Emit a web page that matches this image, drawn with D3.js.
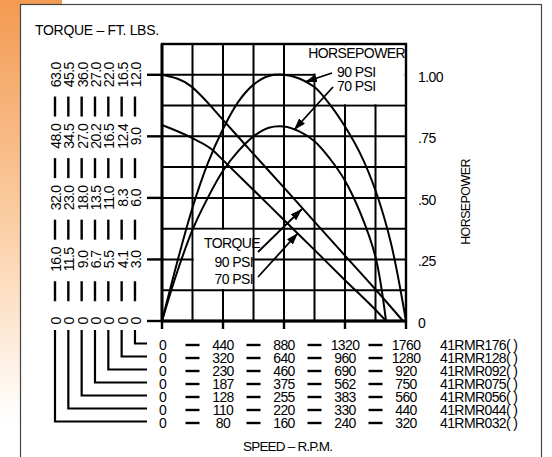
<!DOCTYPE html>
<html>
<head>
<meta charset="utf-8">
<script src="https://cdn.jsdelivr.net/npm/d3@7"></script>
<style>
  html, body { margin: 0; padding: 0; background: #fff; }
  svg { display: block; font-family: "Liberation Sans", Arial, sans-serif; }
  svg text { fill: #000; }
</style>
</head>
<body>
<svg id="chart" width="552" height="457"></svg>
<script>
// Torque curves (ft-lb on the 41RMR176 scale) against speed (rpm)
const rpm90 = [0, 216, 281, 440, 656, 880, 1096, 1320, 1536, 1738];
const torque90 = [12.0, 11.41, 10.99, 9.80, 8.17, 6.50, 4.87, 3.19, 1.57, 0.0];
const rpm70 = [0, 216, 360, 440, 656, 880, 1096, 1320, 1536, 1616];
const torque70 = [9.55, 8.92, 8.36, 7.84, 6.41, 4.92, 3.49, 1.99, 0.57, 0.0];
// Horsepower curves
const hpRpm90 = [0, 110, 220, 330, 440, 550, 660, 770, 880, 990, 1100, 1210, 1320, 1430, 1540, 1650, 1760];
const hp90 = [0.0, 0.24, 0.46, 0.64, 0.78, 0.89, 0.96, 0.995, 1.0, 0.985, 0.95, 0.88, 0.79, 0.68, 0.53, 0.32, 0.0];
const hpRpm70 = [0, 110, 220, 330, 440, 550, 660, 770, 880, 990, 1100, 1210, 1320, 1430, 1540, 1616];
const hp70 = [0.0, 0.20, 0.37, 0.50, 0.61, 0.69, 0.75, 0.785, 0.79, 0.77, 0.73, 0.66, 0.57, 0.44, 0.26, 0.0];

// Left torque columns, one per model (41RMR032 ... 41RMR176), top label first
const torqueCols = [
  ["63.0", "48.0", "32.0", "16.0", "0"],
  ["45.5", "34.5", "23.0", "11.5", "0"],
  ["36.0", "27.0", "18.0", "9.0", "0"],
  ["27.0", "20.2", "13.5", "6.7", "0"],
  ["22.0", "16.5", "11.0", "5.5", "0"],
  ["16.5", "12.4", "8.3", "4.1", "0"],
  ["12.0", "9.0", "6.0", "3.0", "0"]
];
const torqueTicks = [12, 9, 6, 3, 0];
// Speed rows, 41RMR176 on top down to 41RMR032
const speedRows = [
  ["0", "440", "880", "1320", "1760"],
  ["0", "320", "640", "960", "1280"],
  ["0", "230", "460", "690", "920"],
  ["0", "187", "375", "562", "750"],
  ["0", "128", "255", "383", "560"],
  ["0", "110", "220", "330", "440"],
  ["0", "80", "160", "240", "320"]
];
const speedTicks = [0, 440, 880, 1320, 1760];
const rowModels = ["41RMR176( )", "41RMR128( )", "41RMR092( )", "41RMR075( )", "41RMR056( )", "41RMR044( )", "41RMR032( )"];
const hpTicks = [1.0, 0.75, 0.5, 0.25, 0];
const hpTickLabels = ["1.00", ".75", ".50", ".25", "0"];

const FS = 14, LS = -0.6;
const svg = d3.select("#chart");
const defs = svg.append("defs");

// Page background: orange fade strip behind a white card
const grad = defs.append("linearGradient").attr("id", "fade").attr("x1", 0).attr("y1", 0).attr("x2", 0).attr("y2", 1);
grad.append("stop").attr("offset", "0%").attr("stop-color", "#f39a52");
grad.append("stop").attr("offset", "50%").attr("stop-color", "#fbcfa6");
grad.append("stop").attr("offset", "92%").attr("stop-color", "#ffffff");
svg.append("rect").attr("x", 0).attr("y", 0).attr("width", 62).attr("height", 457).attr("fill", "url(#fade)");
svg.append("rect").attr("x", 20.5).attr("y", 4.5).attr("width", 521).attr("height", 470)
  .attr("fill", "#fff").attr("stroke", "#444").attr("stroke-width", 1.2);

// Plot scales: torque on the left, horsepower on the right share the grid
const x = d3.scaleLinear().domain([0, 1760]).range([162, 406]);
const y = d3.scaleLinear().domain([0, 13.5]).range([321, 44]);
const yHp = d3.scaleLinear().domain([0, 1.125]).range([321, 44]);

const g = svg.append("g");

// Grid: 8 columns x 9 rows
const colVals = d3.range(0, 1761, 220);
const rowVals = d3.range(0, 13.51, 1.5);
g.append("g").selectAll("line").data(colVals).join("line")
  .attr("x1", d => x(d)).attr("x2", d => x(d)).attr("y1", y(13.5)).attr("y2", y(0))
  .attr("stroke", "#000").attr("stroke-width", 2);
g.append("g").selectAll("line").data(rowVals).join("line")
  .attr("x1", x(0)).attr("x2", x(1760)).attr("y1", d => y(d)).attr("y2", d => y(d))
  .attr("stroke", "#000").attr("stroke-width", 2);

// Cleared cells behind the two notes
const m = 1.2;
const hpBox = [
  [x(880) + m, y(13.5) + m], [x(1760) - m, y(13.5) + m], [x(1760) - m, y(10.5) - m],
  [x(1100) + m, y(10.5) - m], [x(1100) + m, y(12) - m], [x(880) + m, y(12) - m]
];
g.append("polygon").attr("points", hpBox.map(p => p.join(",")).join(" ")).attr("fill", "#fff");
const tqBox = [
  [x(220) + m, y(4.5) + m], [x(660) - m, y(4.5) + m], [x(660) - m, y(1.5) - m], [x(220) + m, y(1.5) - m]
];
g.append("polygon").attr("points", tqBox.map(p => p.join(",")).join(" ")).attr("fill", "#fff");

// Plot frame
g.append("rect").attr("x", x(0)).attr("y", y(13.5)).attr("width", x(1760) - x(0)).attr("height", y(0) - y(13.5))
  .attr("fill", "none").attr("stroke", "#000").attr("stroke-width", 2.4);
g.append("line").attr("x1", x(0)).attr("x2", x(1760)).attr("y1", y(0)).attr("y2", y(0)).attr("stroke", "#000").attr("stroke-width", 2.8);
g.append("line").attr("x1", x(0)).attr("x2", x(0)).attr("y1", y(13.5)).attr("y2", y(0)).attr("stroke", "#000").attr("stroke-width", 2.8);

// Curves
const lineT = d3.line().x(d => x(d[0])).y(d => y(d[1])).curve(d3.curveMonotoneX);
const lineH = d3.line().x(d => x(d[0])).y(d => yHp(d[1])).curve(d3.curveCatmullRom.alpha(0.5));
const curveStyle = sel => sel.attr("fill", "none").attr("stroke", "#000").attr("stroke-width", 2);
g.append("path").datum(rpm90.map((r, i) => [r, torque90[i]])).attr("d", lineT).call(curveStyle);
g.append("path").datum(rpm70.map((r, i) => [r, torque70[i]])).attr("d", lineT).call(curveStyle);
g.append("path").datum(hpRpm90.map((r, i) => [r, hp90[i]])).attr("d", lineH).call(curveStyle);
g.append("path").datum(hpRpm70.map((r, i) => [r, hp70[i]])).attr("d", lineH).call(curveStyle);

// Left ticks
torqueTicks.forEach(t => {
  g.append("line").attr("x1", 147).attr("x2", x(0)).attr("y1", y(t)).attr("y2", y(t))
    .attr("stroke", "#000").attr("stroke-width", 2.4);
});

// Torque columns, rotated, with dashes between the values
const colX = d3.range(7).map(i => 55 + i * 13.33);
torqueCols.forEach((col, ci) => {
  col.forEach((lab, ti) => {
    svg.append("text").attr("transform", `translate(${colX[ci] + 6},${y(torqueTicks[ti])}) rotate(-90)`)
      .attr("text-anchor", "middle").attr("font-size", FS).attr("letter-spacing", LS).text(lab);
  });
  for (let k = 0; k < 4; k++) {
    const mid = (y(torqueTicks[k]) + y(torqueTicks[k + 1])) / 2 + 1;
    svg.append("line").attr("x1", colX[ci]).attr("x2", colX[ci]).attr("y1", mid - 10).attr("y2", mid + 10)
      .attr("stroke", "#000").attr("stroke-width", 2.4);
  }
});

// Speed rows
const rowBase = d3.range(7).map(i => 350 + i * 13);
// Bracket lines tying each torque column to its speed row
colX.forEach((cx, ci) => {
  const ry = rowBase[6 - ci] - 6.5;
  svg.append("path").attr("d", `M${cx},330 V${ry} H147`)
    .attr("fill", "none").attr("stroke", "#000").attr("stroke-width", 2.2);
});

// Bottom speed ticks
speedTicks.forEach(r => {
  g.append("line").attr("x1", x(r)).attr("x2", x(r)).attr("y1", y(0)).attr("y2", y(0) + 8)
    .attr("stroke", "#000").attr("stroke-width", 2.4);
});
speedRows.forEach((row, ri) => {
  row.forEach((lab, k) => {
    svg.append("text").attr("x", x(speedTicks[k]) + (k === 0 ? 0.5 : 0)).attr("y", rowBase[ri])
      .attr("text-anchor", "middle").attr("font-size", FS).attr("letter-spacing", LS).text(lab);
    if (k < 4) {
      const mx = (x(speedTicks[k]) + x(speedTicks[k + 1])) / 2;
      svg.append("line").attr("x1", mx - 7).attr("x2", mx + 7)
        .attr("y1", rowBase[ri] - 5).attr("y2", rowBase[ri] - 5).attr("stroke", "#000").attr("stroke-width", 2.4);
    }
  });
  svg.append("text").attr("x", 440).attr("y", rowBase[ri]).attr("font-size", FS).attr("letter-spacing", LS)
    .text(rowModels[ri]);
});

// Right horsepower labels
hpTicks.forEach((h, i) => {
  svg.append("text").attr("x", 418).attr("y", yHp(h) + 7).attr("font-size", FS).attr("letter-spacing", LS)
    .text(hpTickLabels[i]);
});

// Axis titles
svg.append("text").attr("x", 35).attr("y", 35).attr("font-size", 14).attr("letter-spacing", -0.3).text("TORQUE – FT. LBS.");
svg.append("text").attr("x", 243).attr("y", 451).attr("font-size", 13.5).attr("letter-spacing", -0.8).text("SPEED – R.P.M.");
svg.append("text").attr("transform", "translate(470,202) rotate(-90)").attr("text-anchor", "middle")
  .attr("font-size", 12.5).attr("letter-spacing", -0.6).text("HORSEPOWER");

// Notes inside the plot
const note = (tx, ty, s, anchor) => svg.append("text").attr("x", tx).attr("y", ty).attr("text-anchor", anchor || "start")
  .attr("font-size", FS).attr("letter-spacing", LS).text(s);
note(405, 58, "HORSEPOWER", "end");
note(337, 77, "90 PSI");
note(337, 91, "70 PSI");
note(260, 248, "TORQUE", "end");
note(253, 267, "90 PSI", "end");
note(253, 284, "70 PSI", "end");

// Arrows
defs.append("marker").attr("id", "arr").attr("markerUnits", "userSpaceOnUse").attr("viewBox", "0 0 12 8")
  .attr("refX", 12).attr("refY", 4).attr("markerWidth", 12).attr("markerHeight", 8).attr("orient", "auto")
  .append("path").attr("d", "M0,0 L12,4 L0,8 z").attr("fill", "#000");
const arrow = (x1, y1, x2, y2) => svg.append("line").attr("x1", x1).attr("y1", y1).attr("x2", x2).attr("y2", y2)
  .attr("stroke", "#000").attr("stroke-width", 1.8).attr("marker-end", "url(#arr)");
arrow(332, 73, 305, 82);
arrow(333, 87, 294, 130);
arrow(258, 252, 302, 209);
arrow(258, 277, 298, 233);
</script>
</body>
</html>
